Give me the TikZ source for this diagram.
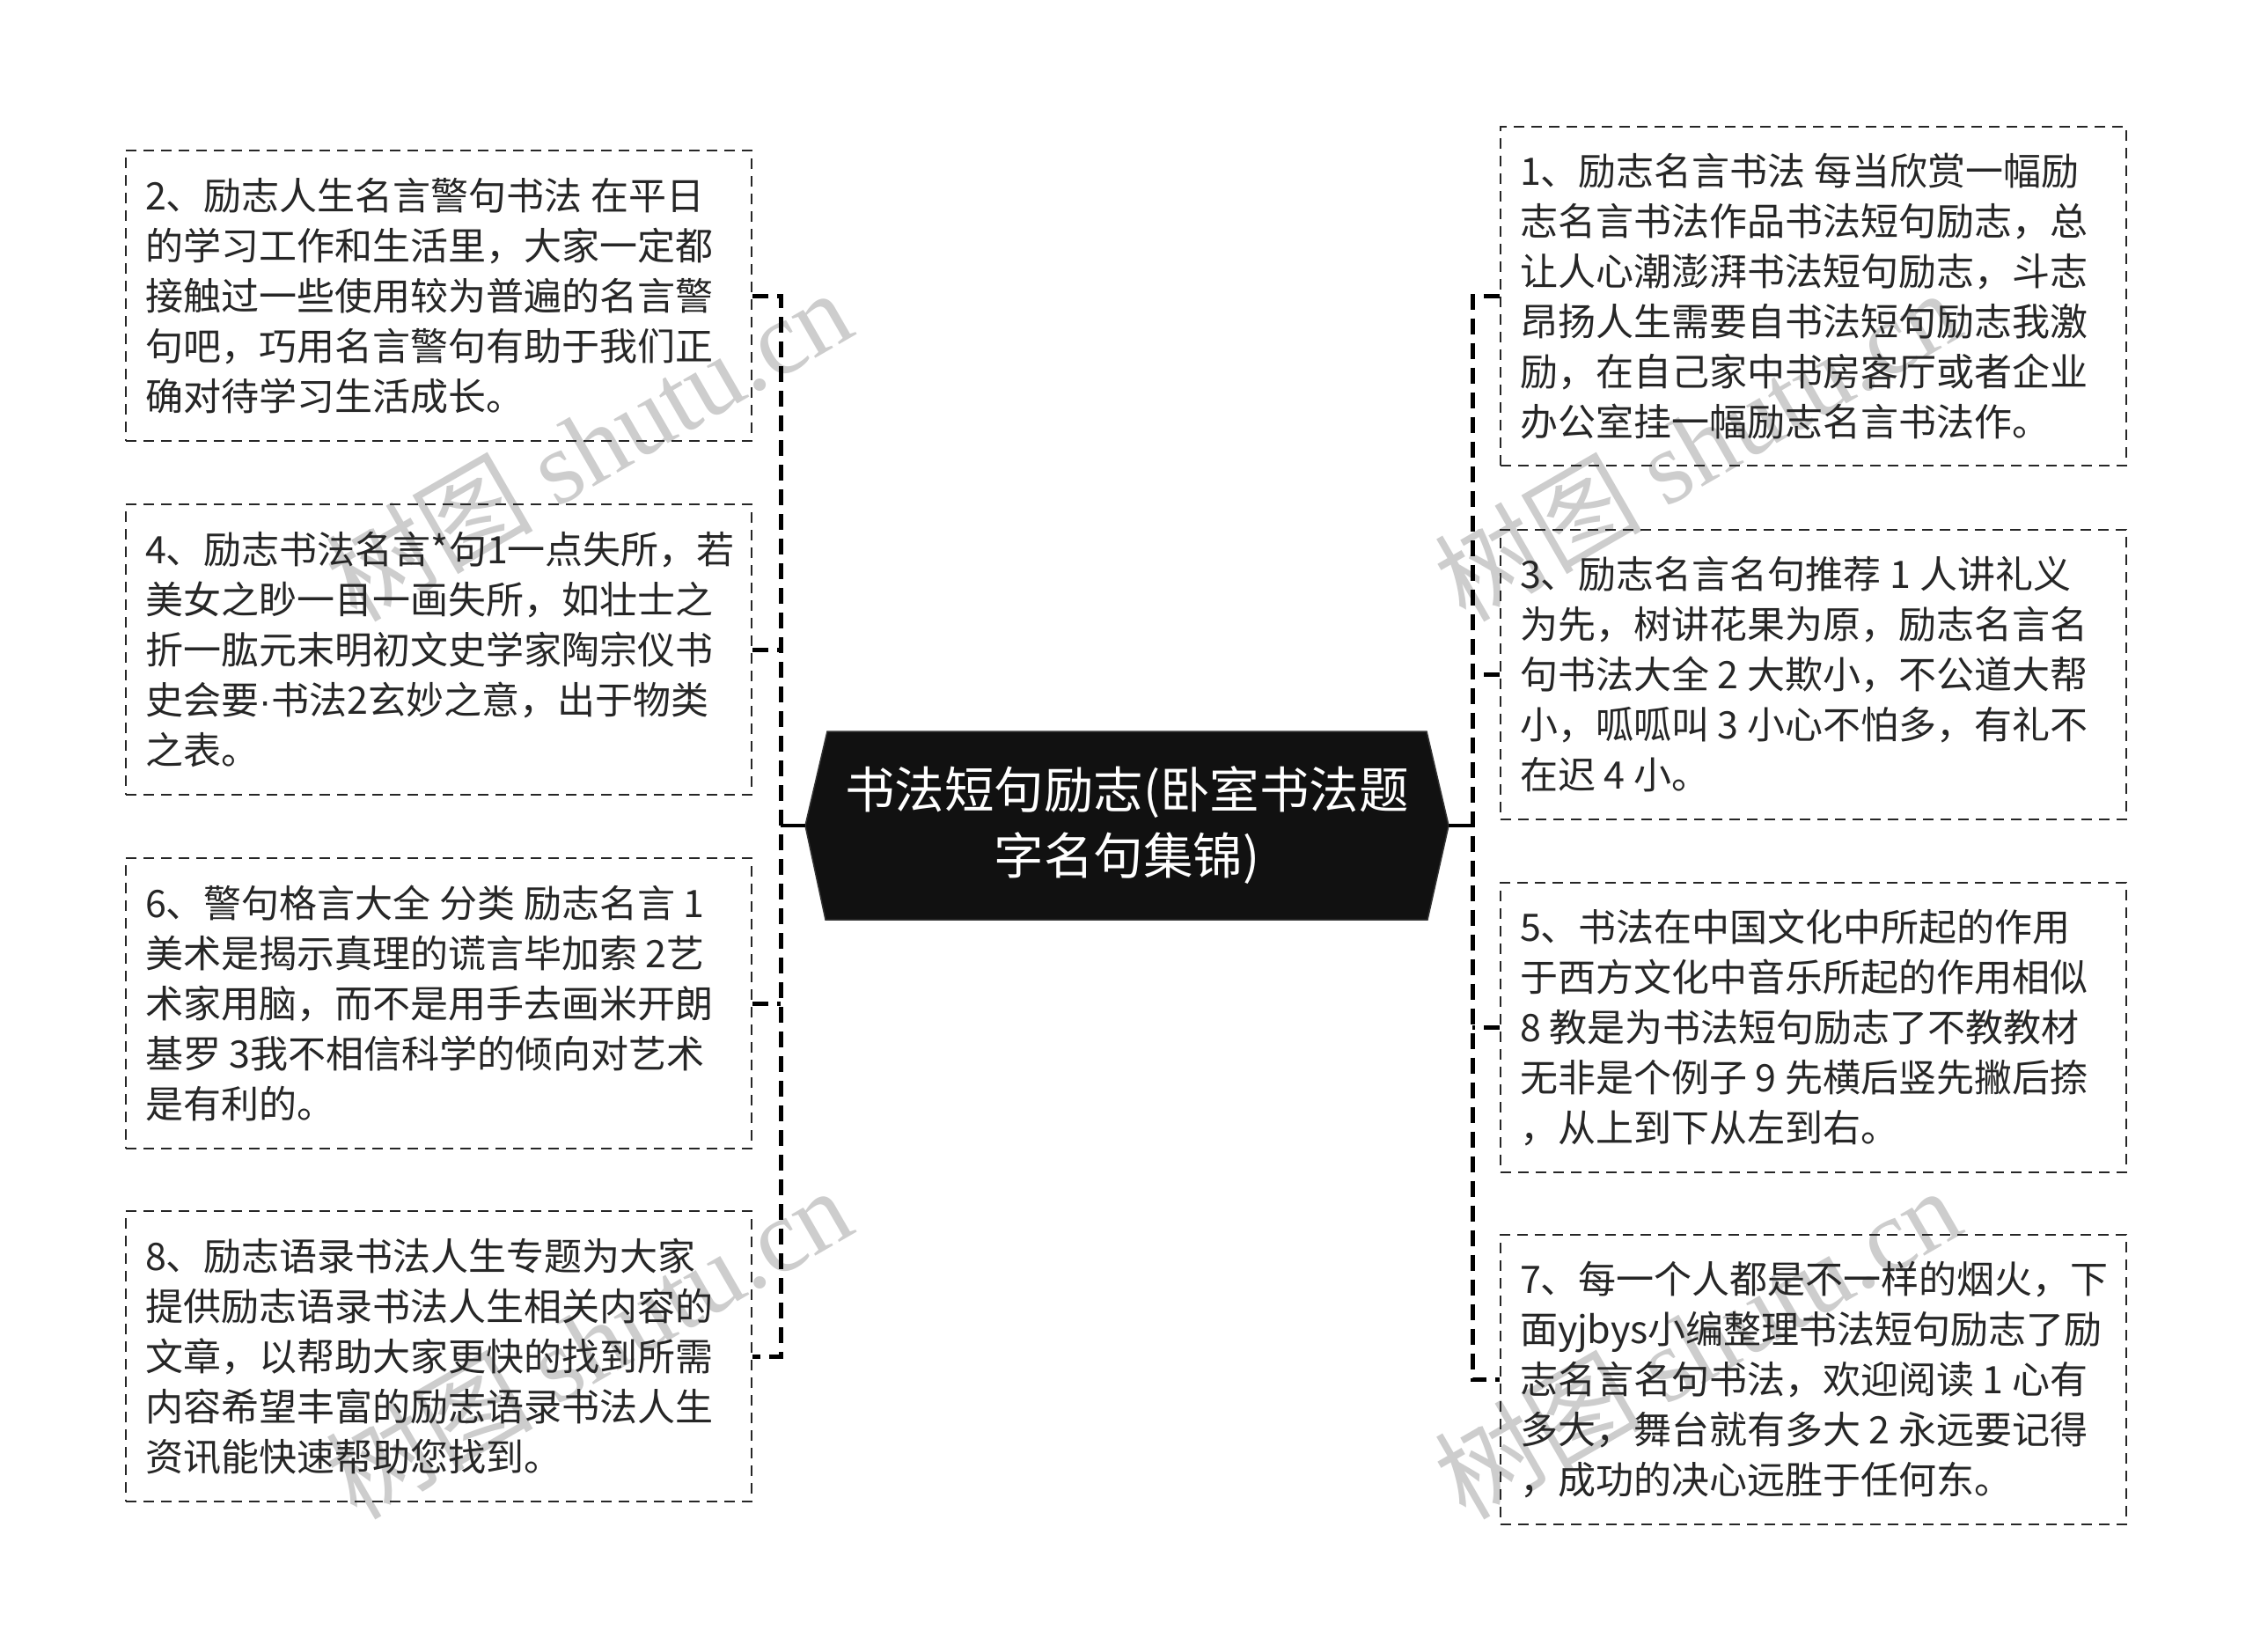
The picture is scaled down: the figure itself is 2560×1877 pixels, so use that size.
\documentclass[tikz,border=0pt]{standalone}
\usepackage{fontspec}
\setmainfont{Noto Sans CJK SC}
\newfontfamily\wmserif{Liberation Serif}
\newfontfamily\latinsans{Liberation Sans}
\definecolor{wmgray}{RGB}{205,205,205}
\definecolor{ink}{RGB}{38,38,38}
\definecolor{hexfill}{RGB}{17,17,17}
\tikzset{
  box/.style={draw=ink, line width=2.2pt, dash pattern=on 12pt off 8pt, minimum width=711pt, inner sep=0pt},
  txt/.style={font=\fontsize{43pt}{57pt}\selectfont, text=ink, align=left, inner sep=0pt, anchor=west},
  link/.style={draw=black, line width=5pt, dash pattern=on 18pt off 10pt},
  solidlink/.style={draw=black, line width=4pt},
  wm/.style={text=wmgray, rotate=30, inner sep=0pt, font=\fontsize{118pt}{118pt}\selectfont},
  central/.style={text=white, align=center, inner sep=0pt, font=\fontsize{56.5pt}{75pt}\selectfont}
}
\begin{document}
\begin{tikzpicture}[x=1pt,y=-1pt]
\useasboundingbox (0,0) rectangle (2560,1877);
\fill[white] (0,0) rectangle (2560,1877);

% watermarks
\node[wm] (w1) at (668,505) {树图 {\wmserif shutu.cn}};
\node[wm] (w2) at (1928,505) {树图 {\wmserif shutu.cn}};
\node[wm] (w3) at (668,1525) {树图 {\wmserif shutu.cn}};
\node[wm] (w4) at (1928,1525) {树图 {\wmserif shutu.cn}};

% central hexagon
\fill[hexfill, draw=black!80, line width=1.5pt] (915,938) -- (940,831) -- (1621,831) -- (1646,938) -- (1622,1045) -- (938,1045) -- cycle;
\coordinate (cl) at (915,938);
\coordinate (cr) at (1646,938);
\node[central] (c) at (1280.5,938) {书法短句励志(卧室书法题\\字名句集锦)};

% boxes left
\node[box, minimum height=330pt] (b2) at (498.5,336) {};
\node[box, minimum height=330pt] (b4) at (498.5,738) {};
\node[box, minimum height=330pt] (b6) at (498.5,1140) {};
\node[box, minimum height=330pt] (b8) at (498.5,1541) {};
% boxes right
\node[box, minimum height=385pt] (b1) at (2060.5,336.5) {};
\node[box, minimum height=329pt] (b3) at (2060.5,766.5) {};
\node[box, minimum height=329pt] (b5) at (2060.5,1167.5) {};
\node[box, minimum height=329pt] (b7) at (2060.5,1567.5) {};

% texts
\node[txt] (t2) at ([xshift=23pt]b2.west) {2、励志人生名言警句书法 在平日\\的学习工作和生活里，大家一定都\\接触过一些使用较为普遍的名言警\\句吧，巧用名言警句有助于我们正\\确对待学习生活成长。};
\node[txt] (t4) at ([xshift=23pt]b4.west) {4、励志书法名言*句1一点失所，若\\美女之眇一目一画失所，如壮士之\\折一肱元末明初文史学家陶宗仪书\\史会要{\latinsans ·}书法2玄妙之意，出于物类\\之表。};
\node[txt] (t6) at ([xshift=23pt]b6.west) {6、警句格言大全 分类 励志名言 1\\美术是揭示真理的谎言毕加索 2艺\\术家用脑，而不是用手去画米开朗\\基罗 3我不相信科学的倾向对艺术\\是有利的。};
\node[txt] (t8) at ([xshift=23pt]b8.west) {8、励志语录书法人生专题为大家\\提供励志语录书法人生相关内容的\\文章，以帮助大家更快的找到所需\\内容希望丰富的励志语录书法人生\\资讯能快速帮助您找到。};
\node[txt] (t1) at ([xshift=23pt]b1.west) {1、励志名言书法 每当欣赏一幅励\\志名言书法作品书法短句励志，总\\让人心潮澎湃书法短句励志，斗志\\昂扬人生需要自书法短句励志我激\\励，在自己家中书房客厅或者企业\\办公室挂一幅励志名言书法作。};
\node[txt] (t3) at ([xshift=23pt]b3.west) {3、励志名言名句推荐 1 人讲礼义\\为先，树讲花果为原，励志名言名\\句书法大全 2 大欺小，不公道大帮\\小，呱呱叫 3 小心不怕多，有礼不\\在迟 4 小。};
\node[txt] (t5) at ([xshift=23pt]b5.west) {5、书法在中国文化中所起的作用\\于西方文化中音乐所起的作用相似\\8 教是为书法短句励志了不教教材\\无非是个例子 9 先横后竖先撇后捺\\，从上到下从左到右。};
\node[txt] (t7) at ([xshift=23pt]b7.west) {7、每一个人都是不一样的烟火，下\\面yjbys小编整理书法短句励志了励\\志名言名句书法，欢迎阅读 1 心有\\多大，舞台就有多大 2 永远要记得\\，成功的决心远胜于任何东。};

% connectors
\coordinate (jl) at (887,938);
\coordinate (jr) at (1673,938);
\draw[solidlink] (cl) -- (jl);
\draw[solidlink] (cr) -- (jr);
\draw[link] (b2.east) -- (b2.east -| jl) -- (b8.east -| jl) -- (b8.east);
\draw[link] (b4.east) -- (b4.east -| jl);
\draw[link] (b6.east) -- (b6.east -| jl);
\draw[link] (b1.west) -- (b1.west -| jr) -- (b7.west -| jr) -- (b7.west);
\draw[link] (b3.west) -- (b3.west -| jr);
\draw[link] (b5.west) -- (b5.west -| jr);
\end{tikzpicture}
\end{document}
